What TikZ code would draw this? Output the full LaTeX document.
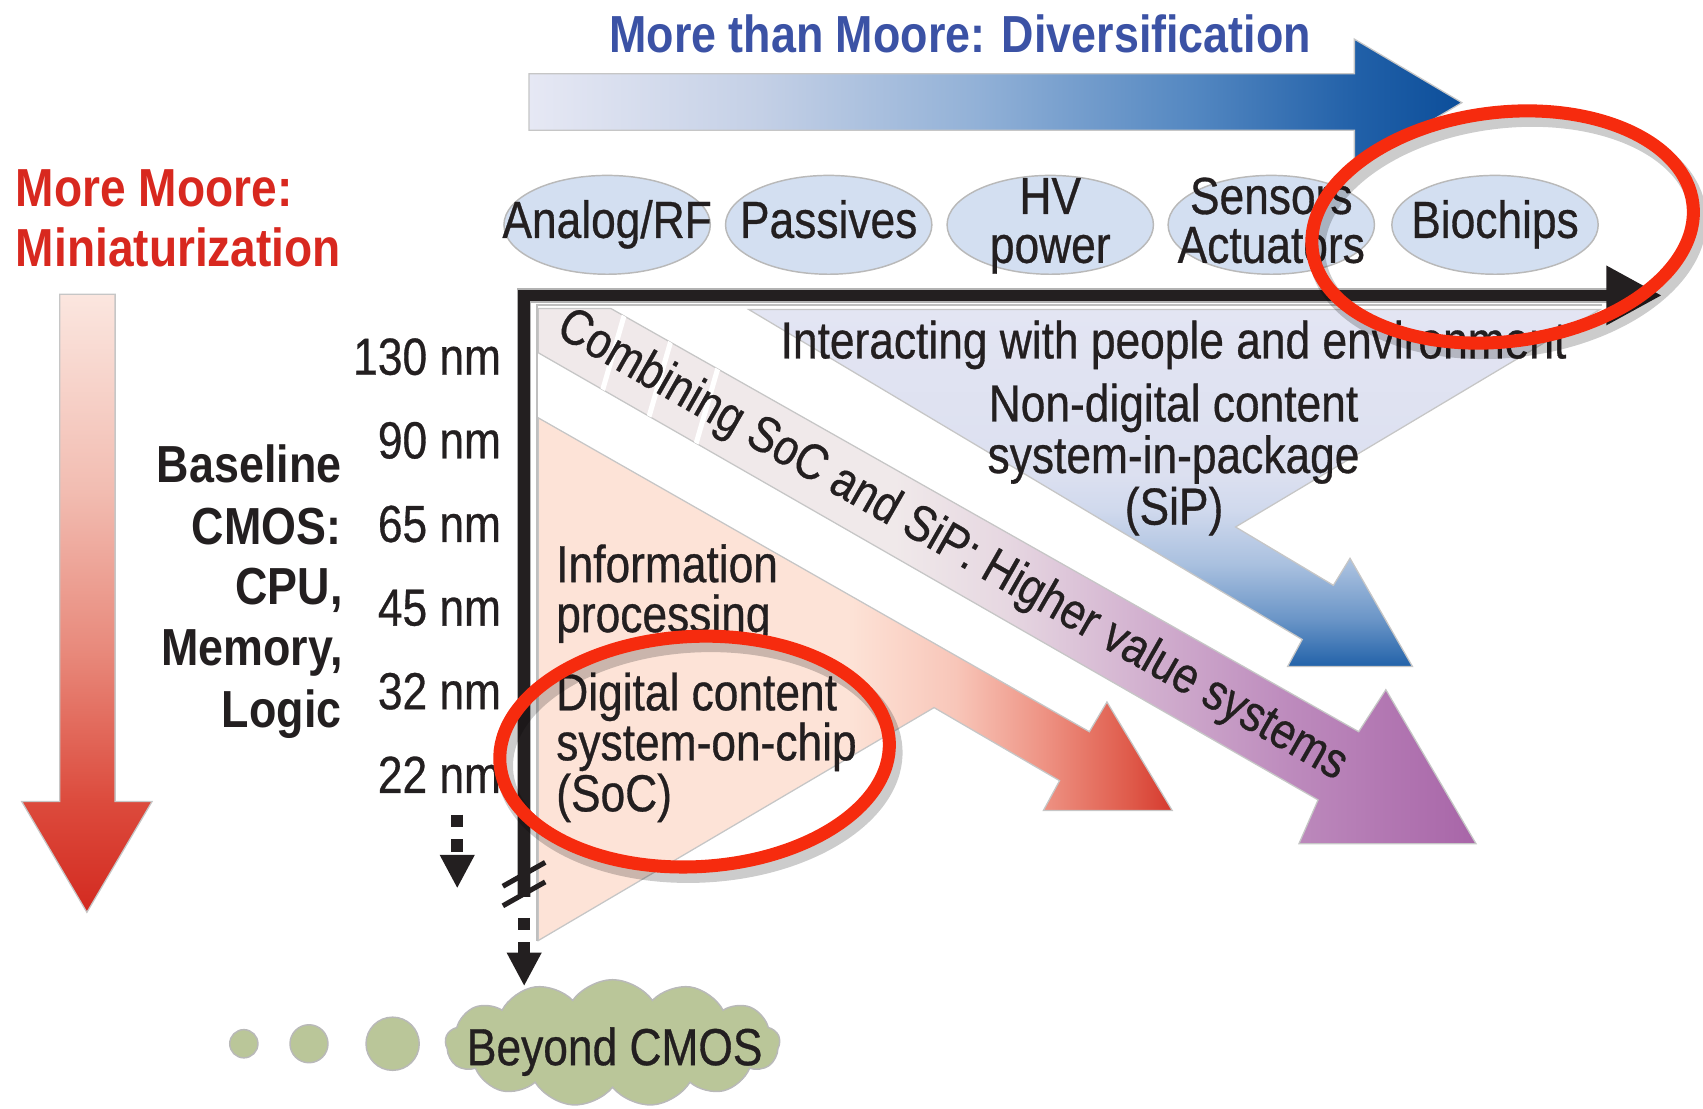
\documentclass[tikz,border=0pt]{standalone}
\usepackage{fontspec}
\setmainfont{Liberation Sans}[FakeStretch=0.86]
\newfontfamily\medfont{Liberation Sans}[FakeStretch=0.85, FakeBold=0.6]
\usetikzlibrary{arrows.meta,shapes.symbols}

\definecolor{ink}{HTML}{231F20}
\definecolor{titleblue}{HTML}{3B52A5}
\definecolor{mooreRed}{HTML}{D8281F}
\definecolor{bubble}{HTML}{D3DFF1}
\definecolor{moss}{HTML}{BAC699}
\definecolor{ringred}{HTML}{F62B0E}

\definecolor{tbA}{HTML}{E6E8F4}
\definecolor{tbB}{HTML}{C4D0E6}
\definecolor{tbC}{HTML}{92B1D7}
\definecolor{tbD}{HTML}{5387C1}
\definecolor{tbE}{HTML}{2160A8}
\definecolor{tbF}{HTML}{0C4E9A}

\definecolor{rbA}{HTML}{FBE6DF}
\definecolor{rbB}{HTML}{F2BDB2}
\definecolor{rbC}{HTML}{E8897B}
\definecolor{rbD}{HTML}{DC4A3C}
\definecolor{rbE}{HTML}{D32A20}

\definecolor{saA}{HTML}{FDE3D7}
\definecolor{saB}{HTML}{F8C6B9}
\definecolor{saC}{HTML}{EE9384}
\definecolor{saD}{HTML}{DF5A4A}
\definecolor{saE}{HTML}{D63A2E}

\definecolor{puA}{HTML}{F0E9EA}
\definecolor{puB}{HTML}{E6D7E1}
\definecolor{puC}{HTML}{D3B2D0}
\definecolor{puD}{HTML}{BD8BBD}
\definecolor{puE}{HTML}{A865A8}

\definecolor{bfA}{HTML}{E3E5F3}
\definecolor{bfB}{HTML}{DCE0F0}
\definecolor{bfC}{HTML}{D0D9ED}
\definecolor{bfD}{HTML}{A9C0DF}
\definecolor{bfE}{HTML}{6A95C7}
\definecolor{bfF}{HTML}{2262A9}

\pgfdeclarehorizontalshading{topbar}{100bp}{color(0bp)=(tbA); color(25bp)=(tbA); color(37.4bp)=(tbB); color(49bp)=(tbC); color(60.7bp)=(tbD); color(69.4bp)=(tbE); color(75bp)=(tbF); color(100bp)=(tbF)}
\pgfdeclareverticalshading{redbar}{100bp}{color(0bp)=(rbE); color(25bp)=(rbE); color(33.8bp)=(rbD); color(46.1bp)=(rbC); color(59.3bp)=(rbB); color(75bp)=(rbA); color(100bp)=(rbA)}
\pgfdeclarehorizontalshading{socfill}{100bp}{color(0bp)=(saA); color(49.4bp)=(saA); color(57.9bp)=(saB); color(64.8bp)=(saC); color(71.7bp)=(saD); color(75bp)=(saE); color(100bp)=(saE)}
\pgfdeclarehorizontalshading{sipband}{100bp}{color(0bp)=(puA); color(44bp)=(puA); color(50bp)=(puB); color(57bp)=(puC); color(65bp)=(puD); color(75bp)=(puE); color(100bp)=(puE)}
\pgfdeclareverticalshading{sipfunnel}{100bp}{color(0bp)=(bfF); color(25bp)=(bfF); color(31.6bp)=(bfE); color(39.3bp)=(bfD); color(46.9bp)=(bfC); color(52bp)=(bfB); color(75bp)=(bfA); color(100bp)=(bfA)}

\begin{document}
\begin{tikzpicture}[x=0.3pt, y=-0.3pt,
    txt/.style={font=\medfont\fontsize{14.4}{14}\selectfont, text=ink, inner sep=0pt},
    bld/.style={font=\fontsize{14.4}{14}\selectfont\bfseries, text=ink, inner sep=0pt},
    edge/.style={draw=gray!45, line width=0.35pt},
    bub/.style={fill=bubble, draw=gray!55, line width=0.4pt},
    dsh/.style={ink, line width=3.3pt, dash pattern=on 3.4pt off 3.4pt, -{Triangle[length=9.3pt, width=9pt]}},
    ring/.style={draw=ringred, line width=3.6pt},
    ringshadow/.style={draw=black, opacity=0.2, line width=4.6pt}]

  \useasboundingbox (0,0) rectangle (1568,1021);

  \shadedraw[shading=topbar, edge] (487,68) -- (1247,68) -- (1247,36) -- (1346,94.5) -- (1247,153) -- (1247,120) -- (487,120) -- cycle;
  \node[bld, text=titleblue, anchor=base] (T) at (884,48) {More than Moore: Diversification};

  \node[bld, text=mooreRed, font=\fontsize{14.8}{14}\selectfont\bfseries, anchor=base west] (R1) at (14,190.5) {More Moore:};
  \node[bld, text=mooreRed, font=\fontsize{14.8}{14}\selectfont\bfseries, anchor=base west] (R2) at (14,245) {Miniaturization};
  \shadedraw[shading=redbar, edge] (55,271) -- (106,271) -- (106,738) -- (140,738) -- (80,840) -- (20,738) -- (55,738) -- cycle;

  \node[bld, anchor=base east] (L1) at (315,444) {Baseline};
  \node[bld, anchor=base east] (L2) at (315,501) {CMOS:};
  \node[bld, anchor=base east] (L3) at (316,557) {CPU,};
  \node[bld, anchor=base east] (L4) at (316,613) {Memory,};
  \node[bld, anchor=base east] (L5) at (315,670) {Logic};

  \foreach \t/\y in {130/345, 90/422, 65/499, 45/576, 32/653, 22/730}
    \node[txt, anchor=base east] (n\t) at (462,\y) {\t\ nm};

  \foreach \cx in {559,763,967,1170.5,1376.5}
    \path[bub] (\cx,207) ellipse [x radius=95, y radius=45.5];
  \node[txt, anchor=base] (E1) at (559,219) {Analog/RF};
  \node[txt, anchor=base] (E2) at (763,219) {Passives};
  \node[txt, anchor=base] (E3) at (967,197) {HV};
  \node[txt, anchor=base] (E4) at (967,242) {power};
  \node[txt, anchor=base] (E5) at (1170.5,197) {Sensors};
  \node[txt, anchor=base] (E6) at (1170.5,242) {Actuators};
  \node[txt, anchor=base] (E7) at (1376.5,219) {Biochips};

  \shadedraw[shading=sipfunnel, edge] (689.5,285) -- (1473,285) -- (1137.6,485.2) -- (1227.7,538.9) -- (1243,514) -- (1300.5,613.7) -- (1185.5,613.7) -- (1199,588.8) -- cycle;

  \shadedraw[shading=sipband, edge] (562.4,284) -- (1251,673.7) -- (1276,635) -- (1359,776.8) -- (1196,776.8) -- (1213.6,736.5) -- (495.6,324.8) -- (495.6,284) -- cycle;
  \begin{scope}
    \clip (562.4,284) -- (1251,673.7) -- (1213.6,736.5) -- (495.6,324.8) -- (495.6,284) -- cycle;
    \draw[white, line width=1.4pt] (580,272) -- (550,376);
    \draw[white, line width=1.4pt] (624,292) -- (594,396);
    \draw[white, line width=1.4pt] (667,318) -- (637,422);
  \end{scope}

  \shadedraw[shading=socfill, edge] (495.6,384.7) -- (1003,673.7) -- (1019.2,646.3) -- (1079.3,746.2) -- (960.7,746.2) -- (975.6,718.8) -- (860,651.5) -- (495.6,866) -- cycle;

  \coordinate (O) at (482.6,272);
  \coordinate (X) at (1530,272);
  \coordinate (Y) at (482.6,826);
  \draw[gray!60, line width=4pt] (Y) -- (O) -- (1480,272);
  \draw[ink, line width=3.2pt, -{Triangle[length=15.3pt, width=15.6pt]}] (Y) -- (O) -- (X);
  \draw[gray!50, line width=0.5pt] (494.6,866) -- (494.6,280.7) -- (1475,280.7);
  \draw[ink, line width=1.4pt] (463,816) -- (502,794);
  \draw[ink, line width=1.4pt] (463,834) -- (502,812);

  \node[cloud, cloud puffs=13, cloud puff arc=110, cloud ignores aspect, minimum width=92.4pt, minimum height=35.1pt, fill=moss, draw=gray!55, line width=0.4pt, inner sep=0pt] (G) at (564,960.5) {};
  \node[txt, anchor=base] (B) at (566,980.7) {Beyond CMOS};
  \foreach \cx/\r in {224.5/13, 284.5/17.5, 361.5/24.5}
    \path[fill=moss, draw=gray!55, line width=0.4pt] (\cx,961) circle [radius=\r];

  \coordinate (D1) at (421,750);
  \coordinate (D2) at (421,818);
  \draw[dsh] (D1) to (D2);
  \coordinate (Y2) at (482.6,845);
  \coordinate (Gt) at (482.6,908);
  \draw[dsh] (Y2) to (Gt);

  \node[txt, font=\medfont\fontsize{14}{14}\selectfont, rotate=-29.7] (C) at (876.5,503) {Combining SoC and SiP: Higher value systems};

  \node[txt, anchor=base] (F1) at (1080.5,330) {Interacting with people and environment};
  \node[txt, anchor=base] (F2) at (1080.5,388) {Non-digital content};
  \node[txt, anchor=base] (F3) at (1080.5,435.5) {system-in-package};
  \node[txt, anchor=base] (F4) at (1081,483) {(SiP)};

  \node[txt, anchor=base west] (S1) at (511.5,536) {Information};
  \node[txt, anchor=base west] (S2) at (511.5,582) {processing};
  \node[txt, anchor=base west] (S3) at (511.5,654) {Digital content};
  \node[txt, anchor=base west] (S4) at (511.5,700) {system-on-chip};
  \node[txt, anchor=base west] (S5) at (511.5,747) {(SoC)};

  \draw[ringshadow, rotate around={7:(1388,216)}] (1388,216) ellipse [x radius=176.5, y radius=105.5];
  \draw[ring, rotate around={7:(1383.5,209)}] (1383.5,209) ellipse [x radius=176.5, y radius=105.5];
  \draw[ringshadow, rotate around={3:(644,699)}] (644,699) ellipse [x radius=179.5, y radius=106];
  \draw[ring, rotate around={3:(639.5,692)}] (639.5,692) ellipse [x radius=179.5, y radius=106];

\end{tikzpicture}
\end{document}
